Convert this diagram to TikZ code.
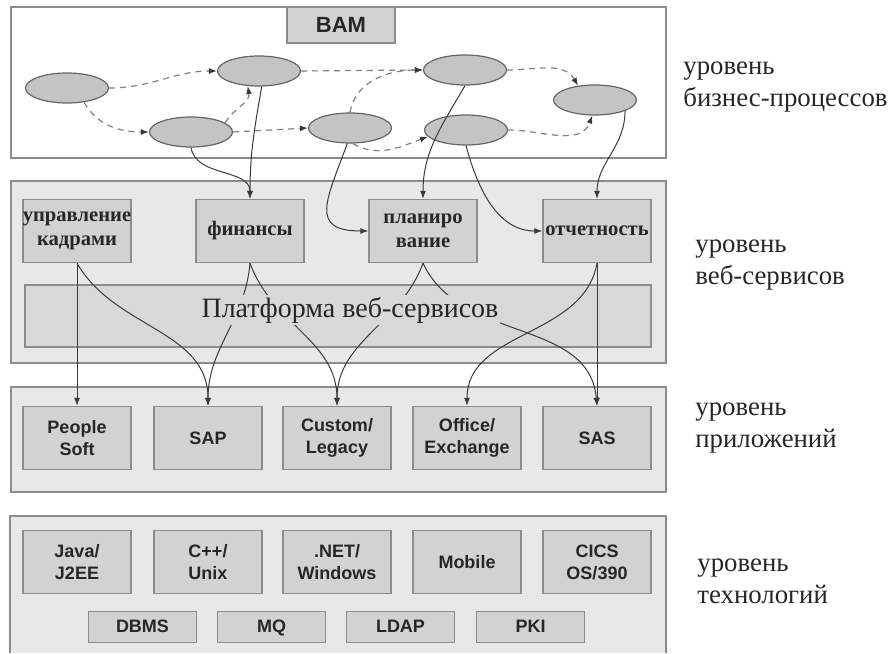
\documentclass[tikz,border=0pt]{standalone}
\usepackage{fontspec}
\setmainfont{Liberation Serif}
\setsansfont{Liberation Sans}
\usetikzlibrary{shapes.geometric, arrows.meta}

\definecolor{layerfill}{HTML}{E8E8E8}
\definecolor{platfill}{HTML}{D8D8D8}
\definecolor{boxfill}{HTML}{D2D2D2}
\definecolor{edgegray}{HTML}{8C8C8C}
\definecolor{inkgray}{HTML}{3A3A3A}

\tikzset{
  layer/.style={draw=edgegray, line width=.8pt, fill=layerfill},
  svc/.style={draw=edgegray, line width=.7pt, fill=boxfill, minimum width=54pt,
    minimum height=31.5pt, inner sep=0pt, align=center, text=black!85,
    font=\fontsize{10.3}{12}\selectfont\bfseries},
  app/.style={svc, font=\sffamily\bfseries\fontsize{9}{11}\selectfont},
  base/.style={app, minimum height=15.5pt, text height=1.6ex, text depth=.3ex},
  proc/.style={ellipse, draw=black!60, line width=.6pt, fill=black!23,
    minimum width=41.5pt, minimum height=15pt, inner sep=0pt},
  flow/.style={-{Latex[length=4pt,width=3pt,color=inkgray]}, dashed,
    dash pattern=on 3pt off 2.5pt, draw=black!50, line width=.6pt},
  link/.style={->, draw=inkgray, line width=.5pt},
  lvl/.style={anchor=west, align=left, inner sep=0pt, text=black!85,
    font=\fontsize{13.4}{16}\selectfont},
}

\begin{document}
\begin{tikzpicture}[>={Latex[length=4pt,width=3pt]}, x=0.5pt, y=0.5pt]
  \useasboundingbox (0,0) rectangle (888,653);

  % layers
  \draw [layer, fill=white] (11,495) rectangle (666,646);
  \draw [layer] (11,290) rectangle (666,472);
  \draw [layer] (11,161) rectangle (666,266);
  \draw [layer] (10,0) -- (10,137) -- (666,137) -- (666,0);
  \draw [draw=edgegray, line width=.7pt, fill=platfill] (25,306) rectangle (651,368);

  \node (bam) at (341,628) [svc, minimum height=18pt,
    font=\sffamily\bfseries\fontsize{11}{13}\selectfont] {BAM};

  % business processes
  \node (bp1) at (67,565) [proc] {};
  \node (bp2) at (259,582) [proc] {};
  \node (bp3) at (191,521) [proc] {};
  \node (bp4) at (350,525) [proc] {};
  \node (bp5) at (465,583) [proc] {};
  \node (bp6) at (466,523) [proc] {};
  \node (bp7) at (595,553) [proc] {};

  % web services
  \node (hr) at (77,422) [svc] {управление\\кадрами};
  \node (fin) at (250,422) [svc] {финансы};
  \node (plan) at (423,422) [svc] {планиро\\вание};
  \node (rep) at (597,422) [svc] {отчетность};

  % applications
  \node (pso) at (77,215) [app] {People\\Soft};
  \node (sap) at (208,215) [app] {SAP};
  \node (cust) at (337,215) [app] {Custom/\\Legacy};
  \node (off) at (467,215) [app] {Office/\\Exchange};
  \node (sas) at (597,215) [app] {SAS};

  % technologies
  \node (java) at (77,91) [app] {Java/\\J2EE};
  \node (cpp) at (208,91) [app] {C++/\\Unix};
  \node (net) at (337,91) [app] {.NET/\\Windows};
  \node (mob) at (467,91) [app] {Mobile};
  \node (cics) at (597,91) [app] {CICS\\OS/390};
  \node (dbms) at (142.5,26) [base] {DBMS};
  \node (mq) at (271.5,26) [base] {MQ};
  \node (ldap) at (400.5,26) [base] {LDAP};
  \node (pki) at (530.5,26) [base] {PKI};

  \draw [flow] (bp1.east) to [out=0, in=180] (bp2.west);
  \draw [flow] (bp1.-40) to [out=-60, in=180] (bp3.west);
  \draw [flow] (bp3.15) to [out=60, in=-80] (bp2.-127);
  \draw [flow] (bp3.east) -- (bp4.west);
  \draw [flow] (bp2.east) -- (bp5.west);
  \draw [flow] (bp4.north) to [out=80, in=180] (bp5.west);
  \draw [flow] (bp4.-80) to [out=-30, in=200] (bp6.190);
  \draw [flow] (bp5.east) to [out=0, in=120] (bp7.140);
  \draw [flow] (bp6.east) to [out=0, in=-110] (bp7.-100);

  \draw [link] (bp3.south) to [out=-80, in=90] (fin.north);
  \draw [link] (bp2.-80) to [out=-100, in=90] (fin.north);
  \draw [link] (bp5.south) to [out=-120, in=90] (plan.north);
  \draw [link] (bp4.-100) to [out=-110, in=180, looseness=1.7] (plan.west);
  \draw [link] (bp6.south) to [out=-75, in=180] (rep.west);
  \draw [link] (bp7.-20) to [out=-90, in=90] (rep.north);

  \draw [link] (hr.south) -- (pso.north);
  \draw [link] (hr.south) to [out=-60, in=90] (sap.north);
  \draw [link] (fin.south) to [out=-95, in=90] (sap.north);
  \draw [link] (fin.south) to [out=-70, in=90] (cust.north);
  \draw [link] (plan.south) to [out=-110, in=90] (cust.north);
  \draw [link] (plan.south) to [out=-65, in=95] (sas.north);
  \draw [link] (rep.south) to [out=-100, in=90] (off.north);
  \draw [link] (rep.south) -- (sas.north);

  \node (pf) at (350,343) [fill=platfill, inner sep=1pt, text=black!85,
    font=\fontsize{14}{16}\selectfont] {Платформа веб-сервисов};

  \node (lbiz) at (683,566) [lvl] {уровень\\бизнес-процессов};
  \node (lweb) at (695,388) [lvl] {уровень\\веб-сервисов};
  \node (lapp) at (695,225) [lvl] {уровень\\приложений};
  \node (ltech) at (697,72) [lvl] {уровень\\технологий};
\end{tikzpicture}
\end{document}
